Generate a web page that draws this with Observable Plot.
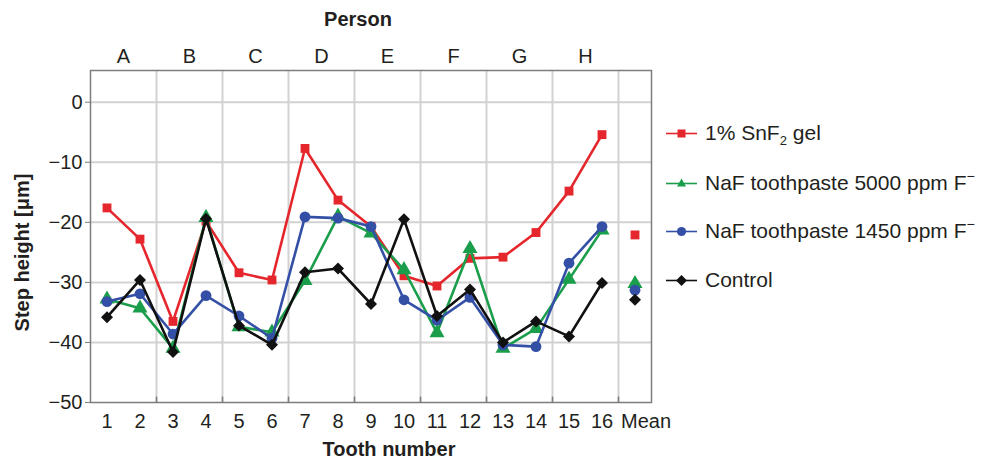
<!DOCTYPE html>
<html><head><meta charset="utf-8">
<script src="https://cdn.jsdelivr.net/npm/d3@7"></script>
<script src="https://cdn.jsdelivr.net/npm/@observablehq/plot@0.6"></script>
<style>
body{margin:0;background:#fff;font-family:"Liberation Sans",Arial,sans-serif;}
#wrap{position:relative;width:981px;height:459px;overflow:hidden;background:#fff}
#legend{position:absolute;left:666px;top:0;color:#231f20;font-size:21px}
.item{position:absolute;left:0;display:flex;align-items:center;white-space:nowrap;height:30px;margin-top:-15px}
.item svg{margin-right:7px}
sub{font-size:13px;vertical-align:-5px;line-height:0}
sup{font-size:14px;vertical-align:9px;line-height:0}
</style></head><body><div id="wrap"><div id="legend"></div></div>
<script>
const teeth = [1,2,3,4,5,6,7,8,9,10,11,12,13,14,15,16];
const persons = ["A","B","C","D","E","F","G","H"];
const seriesNames = ["1% SnF2 gel","NaF toothpaste 5000 ppm F-","NaF toothpaste 1450 ppm F-","Control"];
const snf2    = [-17.6,-22.8,-36.5,-19.8,-28.4,-29.6,-7.7,-16.3,-20.7,-28.9,-30.6,-26.0,-25.8,-21.7,-14.8,-5.4];
const naf5000 = [-32.8,-34.3,-41.0,-19.2,-37.4,-38.3,-29.7,-19.0,-21.8,-27.9,-38.4,-24.4,-41.0,-37.7,-29.5,-21.3];
const naf1450 = [-33.2,-31.9,-38.6,-32.2,-35.6,-39.3,-19.1,-19.3,-20.7,-32.9,-36.3,-32.5,-40.4,-40.7,-26.8,-20.7];
const control = [-35.8,-29.6,-41.6,-19.4,-37.2,-40.4,-28.3,-27.7,-33.6,-19.5,-35.6,-31.2,-40.0,-36.5,-39.0,-30.1];
const means   = [-22.1,-30.2,-31.3,-32.9];
const yTicks = [0,-10,-20,-30,-40,-50];

const colors  = ["#e5262c","#1b9e4b","#3450a6","#111111"];
const symbols = ["square","triangle","circle","diamond2"];
const radii   = [5.0,5.6,5.4,5.4];
const values = [snf2, naf5000, naf1450, control];
const meanPos = teeth.length + 1;
const personPos = persons.map((p,i) => 2*i + 1.5);
const gridX = persons.map((p,i) => 2*i + 2.5);

const series = seriesNames.map((name,i) => ({
  name,
  line: teeth.map((t,j) => ({tooth: t, value: values[i][j]})),
  dots: teeth.map((t,j) => ({tooth: t, value: values[i][j]})).concat([{tooth: meanPos, value: means[i]}])
}));

const font = '"Liberation Sans", Arial, sans-serif';
const chart = Plot.plot({
  width: 981, height: 459,
  marginLeft: 90, marginRight: 330, marginTop: 70, marginBottom: 57,
  style: {fontFamily: font, fontSize: "20px", color: "#231f20", background: "transparent"},
  x: {type: "linear", domain: [0.5, meanPos + 0.5]},
  y: {type: "linear", domain: [-50, 5.28]},
  marks: [
    Plot.ruleY(yTicks.slice(0,5), {stroke: "#d2d2d2", strokeWidth: 2}),
    Plot.ruleX(gridX, {stroke: "#d2d2d2", strokeWidth: 2}),
    Plot.frame({stroke: "#7d7d7d", strokeWidth: 1.5}),
    Plot.ruleX(gridX, {y1: -50, y2: -49.1, stroke: "#7d7d7d", strokeWidth: 1.5}),
    Plot.axisY({ticks: yTicks, tickSize: 5, tickPadding: 3, label: null, stroke: "#7d7d7d"}),
    Plot.axisX({anchor: "bottom", ticks: teeth, tickSize: 0, tickPadding: 11, label: null, tickFormat: d => String(d)}),
    Plot.axisX({anchor: "bottom", ticks: [meanPos], tickSize: 0, tickPadding: 11, dx: 11, label: null, tickFormat: () => "Mean"}),
    Plot.axisX({anchor: "top", ticks: personPos, tickSize: 0, tickPadding: 8, label: null, tickFormat: (d,i) => persons[i]}),
    Plot.text(["Person"], {text: d => d, frameAnchor: "top", dx: -13, dy: -59, fontWeight: "bold", fontSize: 20}),
    Plot.text(["Tooth number"], {text: d => d, frameAnchor: "bottom", dx: 18, dy: 53, fontWeight: "bold", fontSize: 20}),
    Plot.text(["Step height [μm]"], {text: d => d, frameAnchor: "left", textAnchor: "middle", dx: -68, dy: 16, rotate: -90, fontWeight: "bold", fontSize: 20}),
    ...series.flatMap((s,i) => [
      Plot.line(s.line, {x: "tooth", y: "value", stroke: colors[i], strokeWidth: 2.6}),
      Plot.dot(s.dots, {x: "tooth", y: "value", fill: colors[i], symbol: symbols[i], r: radii[i], stroke: "none"})
    ])
  ]
});
const wrap = document.getElementById("wrap");
wrap.insertBefore(chart, wrap.firstChild);
chart.style.position = "absolute"; chart.style.left = "0"; chart.style.top = "0";

// legend
const legendLabels = [
  '1% SnF<sub>2</sub> gel',
  'NaF toothpaste 5000 ppm F<sup>−</sup>',
  'NaF toothpaste 1450 ppm F<sup>−</sup>',
  'Control'
];
const legendY = [133, 183, 231, 280];
const shapes = [
  c => `<rect x="11.5" y="4.5" width="8" height="8" fill="${c}"/>`,
  c => `<path d="M15.5,3.5 L20,11.5 L11,11.5 Z" fill="${c}"/>`,
  c => `<circle cx="15.5" cy="8.5" r="4.6" fill="${c}"/>`,
  c => `<path d="M15.5,3 L21,8.5 L15.5,14 L10,8.5 Z" fill="${c}"/>`
];
const legend = document.getElementById("legend");
legendLabels.forEach((lab,i) => {
  const div = document.createElement("div");
  div.className = "item";
  div.style.top = legendY[i] + "px";
  div.innerHTML = `<svg width="32" height="17" viewBox="0 0 32 17"><line x1="0" x2="31" y1="8.5" y2="8.5" stroke="${colors[i]}" stroke-width="1.6"/>${shapes[i](colors[i])}</svg><span>${lab}</span>`;
  legend.appendChild(div);
});
</script>
</body></html>
